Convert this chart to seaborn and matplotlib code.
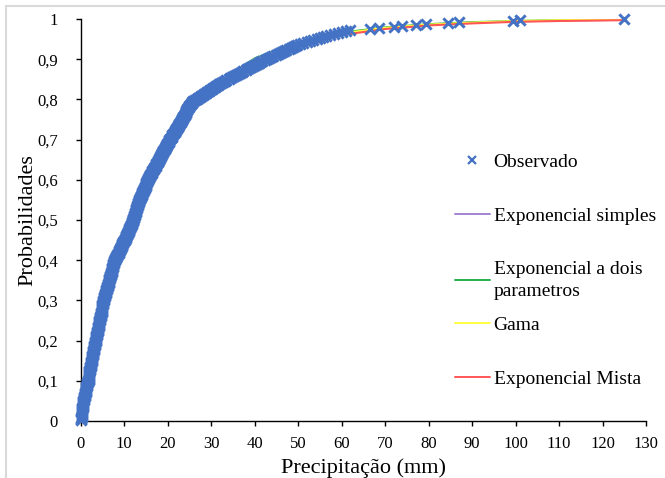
"""Empirical vs fitted CDFs of daily precipitation (January)."""

import numpy as np
import pandas as pd
import matplotlib
matplotlib.use("Agg")
import matplotlib.pyplot as plt
from matplotlib.lines import Line2D
import seaborn as sns

# ---------------------------------------------------------------------------
# Data
# ---------------------------------------------------------------------------
# observed precipitation values (mm), sorted
OBSERVED_MM = [
    0.1, 0.1, 0.1, 0.2, 0.2, 0.2, 0.3, 0.3, 0.3, 0.3, 0.4, 0.4, 0.4, 0.5, 0.5, 0.5, 0.5, 0.6, 0.6, 0.6,
    0.7, 0.7, 0.8, 0.8, 0.9, 0.9, 1.0, 1.0, 1.1, 1.1, 1.2, 1.2, 1.3, 1.3, 1.4, 1.4, 1.5, 1.5, 1.6, 1.7,
    1.8, 1.8, 1.8, 1.9, 1.9, 1.9, 2.0, 2.0, 2.0, 2.0, 2.1, 2.1, 2.2, 2.2, 2.3, 2.3, 2.4, 2.4, 2.4, 2.5,
    2.5, 2.6, 2.6, 2.7, 2.7, 2.8, 2.8, 2.9, 2.9, 2.9, 3.0, 3.0, 3.0, 3.1, 3.1, 3.2, 3.2, 3.3, 3.3, 3.4,
    3.4, 3.5, 3.5, 3.6, 3.6, 3.7, 3.7, 3.8, 3.8, 3.9, 3.9, 4.0, 4.0, 4.0, 4.1, 4.1, 4.2, 4.2, 4.3, 4.3,
    4.4, 4.4, 4.5, 4.5, 4.6, 4.6, 4.7, 4.7, 4.8, 4.8, 4.8, 4.9, 4.9, 5.0, 5.0, 5.0, 5.1, 5.1, 5.2, 5.2,
    5.3, 5.3, 5.4, 5.4, 5.5, 5.6, 5.6, 5.7, 5.8, 5.8, 5.9, 6.0, 6.0, 6.1, 6.2, 6.2, 6.3, 6.4, 6.4, 6.5,
    6.6, 6.6, 6.7, 6.8, 6.8, 6.9, 7.0, 7.0, 7.1, 7.2, 7.2, 7.3, 7.3, 7.4, 7.4, 7.5, 7.5, 7.6, 7.6, 7.7,
    7.8, 7.9, 8.0, 8.2, 8.3, 8.4, 8.5, 8.7, 8.8, 8.9, 9.0, 9.1, 9.2, 9.3, 9.4, 9.5, 9.6, 9.7, 9.8, 10.0,
    10.1, 10.2, 10.3, 10.4, 10.5, 10.6, 10.7, 10.8, 10.9, 11.0, 11.1, 11.2, 11.3, 11.4, 11.5, 11.6, 11.7, 11.8, 11.9, 12.0,
    12.0, 12.1, 12.1, 12.2, 12.3, 12.3, 12.4, 12.5, 12.5, 12.6, 12.7, 12.7, 12.8, 12.9, 12.9, 13.0, 13.1, 13.1, 13.2, 13.3,
    13.4, 13.5, 13.6, 13.7, 13.8, 13.9, 14.0, 14.1, 14.2, 14.3, 14.4, 14.5, 14.6, 14.7, 14.8, 14.9, 15.0, 15.0, 15.1, 15.2,
    15.3, 15.4, 15.5, 15.7, 15.8, 15.9, 16.0, 16.2, 16.3, 16.4, 16.5, 16.7, 16.8, 16.9, 17.0, 17.2, 17.3, 17.4, 17.5, 17.7,
    17.8, 17.9, 18.0, 18.2, 18.3, 18.4, 18.5, 18.7, 18.8, 18.9, 19.0, 19.2, 19.3, 19.4, 19.5, 19.7, 19.8, 19.9, 20.0, 20.2,
    20.3, 20.4, 20.6, 20.7, 20.9, 21.0, 21.1, 21.3, 21.4, 21.6, 21.7, 21.8, 22.0, 22.1, 22.3, 22.4, 22.5, 22.7, 22.8, 23.0,
    23.1, 23.2, 23.4, 23.5, 23.6, 23.8, 23.9, 24.0, 24.1, 24.2, 24.3, 24.4, 24.5, 24.6, 24.8, 25.0, 25.2, 25.4, 25.6, 25.7,
    25.9, 26.3, 26.7, 27.0, 27.4, 27.7, 28.1, 28.4, 28.8, 29.1, 29.5, 29.8, 30.2, 30.5, 30.9, 31.2, 31.6, 31.9, 32.3, 32.7,
    33.1, 33.5, 34.0, 34.4, 34.8, 35.3, 35.7, 36.1, 36.6, 37.0, 37.4, 37.9, 38.3, 38.7, 39.2, 39.6, 40.0, 40.5, 40.9, 41.3,
    41.8, 42.3, 42.8, 43.3, 43.8, 44.3, 44.8, 45.3, 45.8, 46.3, 46.8, 47.3, 47.8, 48.3, 48.8, 49.3, 49.8, 50.4,
    51.2, 52.0, 52.8, 53.5, 54.3, 55.0, 55.8, 56.5, 57.3,
    58.2, 59.2, 60.0, 61.0, 62.0,
    66.5, 68.5, 72.0, 74.0, 77.0, 79.5, 84.5, 87.0, 99.5, 101.0, 125.0,
]

# fitted CDFs, read at a few abscissas
CURVE_X = [0, 1, 2, 3, 5, 7.5, 10, 12.5, 15, 20, 25, 30, 40, 50, 60, 70, 80, 90, 100, 110, 125]
EXP_SIMPLES = [0.0, 0.07, 0.13, 0.19, 0.29, 0.40, 0.47, 0.53, 0.59, 0.69, 0.77, 0.83, 0.90, 0.94, 0.965, 0.978, 0.986, 0.991, 0.994, 0.996, 0.998]
EXP_DOIS_PARAM = [0.0, 0.07, 0.13, 0.19, 0.29, 0.40, 0.47, 0.53, 0.59, 0.69, 0.77, 0.83, 0.902, 0.942, 0.966, 0.979, 0.987, 0.992, 0.995, 0.997, 0.999]
GAMA = [0.0, 0.08, 0.14, 0.19, 0.29, 0.39, 0.47, 0.53, 0.59, 0.69, 0.77, 0.83, 0.90, 0.94, 0.964, 0.978, 0.986, 0.991, 0.995, 0.997, 0.999]
EXP_MISTA = [0.0, 0.07, 0.12, 0.17, 0.28, 0.39, 0.46, 0.52, 0.59, 0.69, 0.77, 0.83, 0.895, 0.935, 0.96, 0.975, 0.984, 0.989, 0.993, 0.995, 0.997]

MODEL_NAMES = ["Exponencial simples", "Exponencial a dois\nparametros", "Gama", "Exponencial Mista"]
MODEL_COLORS = ["#A382D3", "#22B14C", "#FFFF40", "#FF5555"]

X_TICKS = list(range(0, 131, 10))
Y_TICKS = [0, 0.1, 0.2, 0.3, 0.4, 0.5, 0.6, 0.7, 0.8, 0.9, 1]
Y_TICK_LABELS = ["0", "0,1", "0,2", "0,3", "0,4", "0,5", "0,6", "0,7", "0,8", "0,9", "1"]

OBS_COLOR = "#4472C4"

# ---------------------------------------------------------------------------
sns.set_theme(style="ticks")
plt.rcParams["font.family"] = ["Liberation Serif", "DejaVu Serif"]

obs = pd.DataFrame({"x": OBSERVED_MM})
obs["p"] = np.arange(1, len(obs) + 1) / len(obs)  # empirical plotting position

curves = pd.concat(
    [
        pd.DataFrame({"x": CURVE_X, "p": vals, "modelo": name})
        for name, vals in zip(MODEL_NAMES, [EXP_SIMPLES, EXP_DOIS_PARAM, GAMA, EXP_MISTA])
    ],
    ignore_index=True,
)

fig = plt.figure(figsize=(6.65, 4.78), dpi=100)
ax = fig.add_axes([0.1214, 0.1192, 0.8500, 0.8411])

sns.lineplot(
    data=curves, x="x", y="p", hue="modelo",
    palette=dict(zip(MODEL_NAMES, MODEL_COLORS)),
    sort=False, estimator=None, linewidth=1.5, legend=False, ax=ax, zorder=2,
)
sns.scatterplot(
    data=obs, x="x", y="p", marker="x", color=OBS_COLOR,
    s=55, linewidth=2.1, legend=False, ax=ax, zorder=3, clip_on=False,
)

ax.set_xlim(0, 130)
ax.set_ylim(0, 1)
ax.set_xticks(X_TICKS)
ax.set_yticks(Y_TICKS)
ax.set_yticklabels(Y_TICK_LABELS)
ax.tick_params(axis="both", direction="out", length=3.5, width=1.0,
               color="black", labelsize=12, labelcolor="black")
ax.tick_params(axis="y", pad=13)
ax.tick_params(axis="x", pad=7)
sns.despine(ax=ax)
for side in ("left", "bottom"):
    ax.spines[side].set_color("black")
    ax.spines[side].set_linewidth(1.0)

ax.set_xlabel("Precipitação (mm)", fontsize=16, color="black", labelpad=5)
ax.set_ylabel("Probabilidades", fontsize=16, color="black", labelpad=0)

# legend in two blocks to reproduce the uneven spacing of the source
obs_handle = Line2D([], [], marker="x", linestyle="none", color=OBS_COLOR,
                    markersize=6, markeredgewidth=1.6)
line_handles = [Line2D([], [], color=c, linewidth=1.4) for c in MODEL_COLORS]
leg_kw = dict(loc="upper left", bbox_transform=fig.transFigure, frameon=False,
              fontsize=14, labelspacing=1.86, handlelength=1.8, handletextpad=0.2,
              borderaxespad=0, borderpad=0, labelcolor="black")

leg1 = ax.legend([obs_handle] + line_handles[:2], ["Observado"] + MODEL_NAMES[:2],
                 bbox_to_anchor=(0.684, 0.679), **leg_kw)
for txt in leg1.get_texts():
    txt.set_linespacing(1.42)
ax.add_artist(leg1)
ax.legend(line_handles[2:], MODEL_NAMES[2:], bbox_to_anchor=(0.684, 0.3383), **leg_kw)

# chart-area border and clipped title, as in the cropped source
fig.add_artist(Line2D([6 / 665, 1], [1 - 6 / 478] * 2, transform=fig.transFigure,
                      color="#D9D9D9", linewidth=1.5))
fig.add_artist(Line2D([6 / 665] * 2, [0, 1 - 6 / 478], transform=fig.transFigure,
                      color="#D9D9D9", linewidth=1.5))
fig.text(300 / 665, 1 + 2 / 478, "Janeiro", fontsize=14, color="black",
         ha="left", va="baseline")

fig.savefig("out.png", dpi=100)
